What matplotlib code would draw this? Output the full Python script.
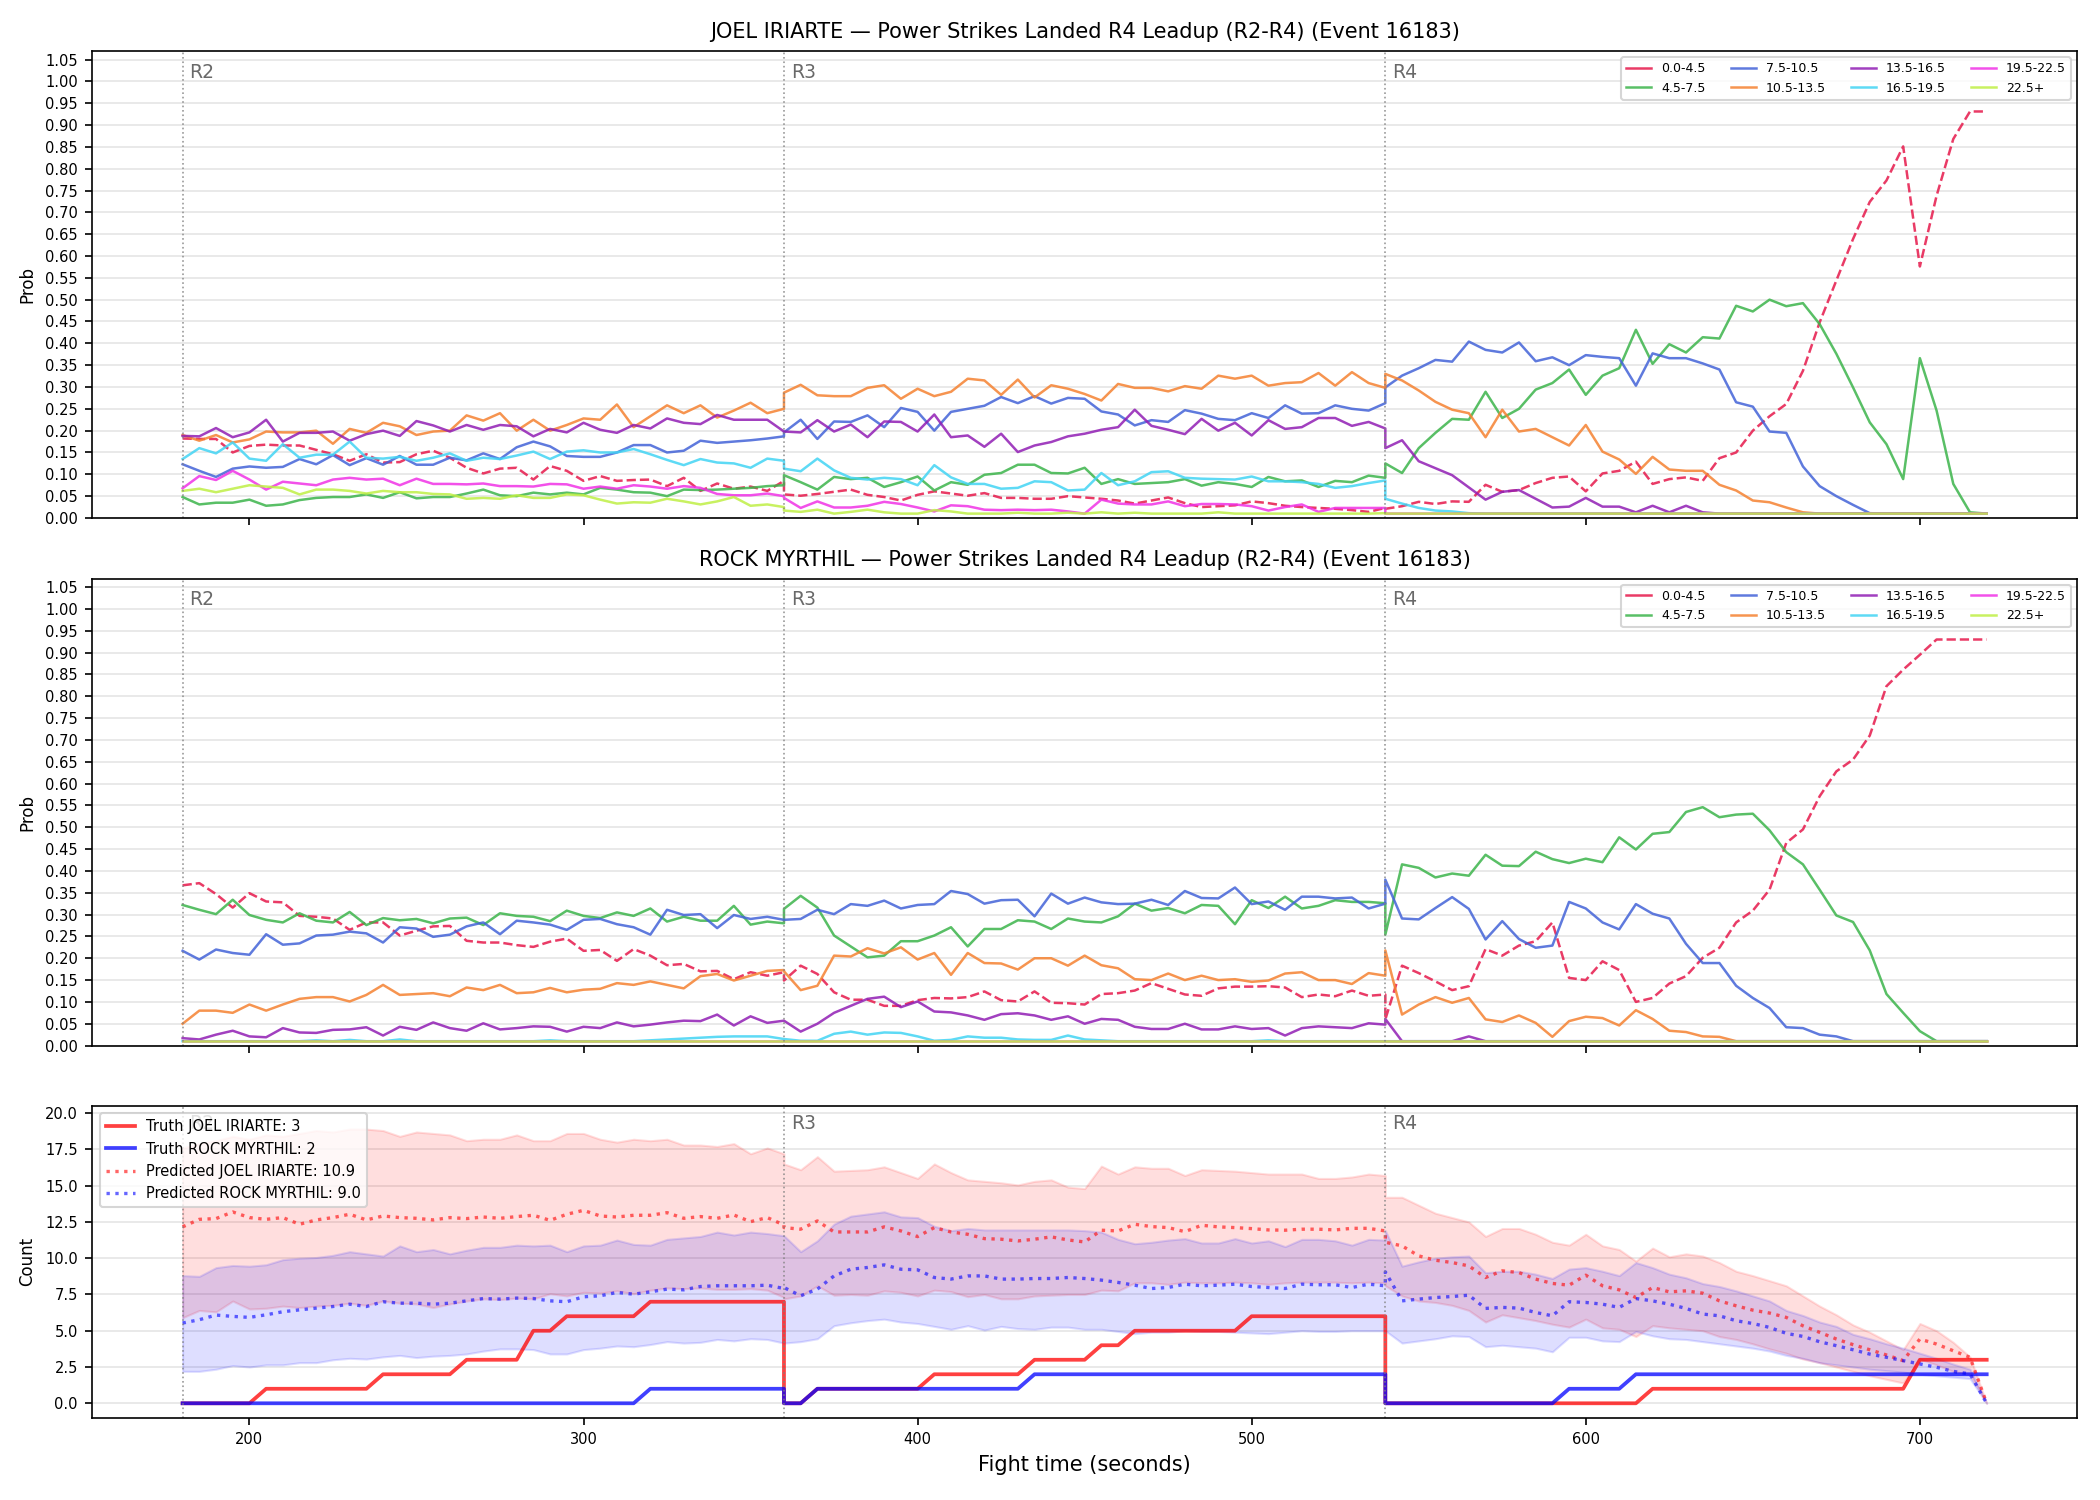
import numpy as np
import matplotlib
matplotlib.use("Agg")
import matplotlib.pyplot as plt
import matplotlib.transforms as mtransforms
from matplotlib.lines import Line2D

# ---------------- time grid (each round sampled every 5 s, 180..720) -------------
ROUND_STARTS = [180, 360, 540]
ROUND_NAMES = ["R2", "R3", "R4"]
BUCKETS = ["0.0-4.5", "4.5-7.5", "7.5-10.5", "10.5-13.5",
           "13.5-16.5", "16.5-19.5", "19.5-22.5", "22.5+"]
COLORS = ["#e6194b", "#3cb44b", "#4363d8", "#f58231",
          "#911eb4", "#42d4f4", "#f032e6", "#bfef45"]

# ---------------- JOEL IRIARTE bucket probabilities (R2 | R3 | R4) ----------------
J_0_4 = ([0.182, 0.181, 0.181, 0.15, 0.165, 0.168, 0.166, 0.166, 0.156, 0.146, 0.131, 0.146, 0.127, 0.128, 0.146, 0.154, 0.138, 0.115, 0.102, 0.113, 0.115, 0.088, 0.119, 0.108, 0.085, 0.096, 0.085, 0.087, 0.088, 0.073, 0.092, 0.062, 0.079, 0.067, 0.072, 0.062, 0.085]
         + [0.054, 0.051, 0.055, 0.06, 0.065, 0.053, 0.048, 0.04, 0.053, 0.061, 0.056, 0.051, 0.057, 0.046, 0.046, 0.044, 0.044, 0.05, 0.047, 0.044, 0.04, 0.033, 0.04, 0.047, 0.034, 0.025, 0.027, 0.029, 0.038, 0.034, 0.028, 0.025, 0.023, 0.021, 0.018, 0.014, 0.023]
         + [0.021, 0.027, 0.037, 0.032, 0.038, 0.037, 0.076, 0.06, 0.064, 0.08, 0.092, 0.095, 0.061, 0.102, 0.108, 0.129, 0.078, 0.089, 0.093, 0.085, 0.137, 0.15, 0.2, 0.233, 0.261, 0.337, 0.448, 0.544, 0.639, 0.724, 0.773, 0.851, 0.576, 0.738, 0.868, 0.931, 0.931])
J_4_7 = ([0.048, 0.031, 0.035, 0.035, 0.042, 0.028, 0.031, 0.041, 0.046, 0.048, 0.048, 0.054, 0.046, 0.059, 0.045, 0.048, 0.048, 0.056, 0.065, 0.052, 0.05, 0.058, 0.054, 0.058, 0.054, 0.069, 0.065, 0.059, 0.058, 0.05, 0.065, 0.064, 0.065, 0.067, 0.069, 0.073, 0.075]
         + [0.098, 0.082, 0.065, 0.094, 0.089, 0.092, 0.071, 0.082, 0.095, 0.063, 0.082, 0.076, 0.099, 0.103, 0.122, 0.122, 0.103, 0.102, 0.115, 0.078, 0.089, 0.078, 0.08, 0.082, 0.089, 0.074, 0.082, 0.078, 0.071, 0.094, 0.084, 0.086, 0.071, 0.085, 0.082, 0.097, 0.092]
         + [0.125, 0.103, 0.16, 0.195, 0.227, 0.225, 0.289, 0.229, 0.25, 0.294, 0.309, 0.34, 0.282, 0.326, 0.343, 0.431, 0.353, 0.398, 0.379, 0.414, 0.411, 0.486, 0.473, 0.5, 0.485, 0.492, 0.444, 0.376, 0.299, 0.219, 0.169, 0.089, 0.366, 0.246, 0.078, 0.013, 0.01])
J_7_10 = ([0.123, 0.108, 0.094, 0.113, 0.118, 0.115, 0.117, 0.135, 0.123, 0.144, 0.121, 0.137, 0.122, 0.142, 0.122, 0.122, 0.138, 0.132, 0.148, 0.135, 0.162, 0.175, 0.164, 0.142, 0.14, 0.14, 0.15, 0.167, 0.167, 0.15, 0.154, 0.177, 0.172, 0.175, 0.178, 0.182, 0.187]
          + [0.196, 0.225, 0.181, 0.221, 0.22, 0.235, 0.208, 0.252, 0.243, 0.2, 0.243, 0.25, 0.257, 0.277, 0.263, 0.279, 0.262, 0.275, 0.273, 0.244, 0.237, 0.212, 0.224, 0.22, 0.247, 0.239, 0.227, 0.224, 0.24, 0.229, 0.258, 0.239, 0.24, 0.258, 0.25, 0.246, 0.263]
          + [0.299, 0.326, 0.343, 0.362, 0.358, 0.404, 0.385, 0.379, 0.402, 0.359, 0.368, 0.35, 0.373, 0.369, 0.366, 0.303, 0.377, 0.366, 0.366, 0.354, 0.34, 0.265, 0.255, 0.198, 0.195, 0.118, 0.073, 0.05, 0.03, 0.011, 0.01, 0.01, 0.01, 0.01, 0.01, 0.01, 0.01])
J_10_13 = ([0.19, 0.177, 0.19, 0.173, 0.18, 0.198, 0.196, 0.196, 0.2, 0.17, 0.204, 0.195, 0.218, 0.21, 0.19, 0.198, 0.2, 0.235, 0.223, 0.24, 0.2, 0.225, 0.2, 0.213, 0.228, 0.225, 0.26, 0.208, 0.233, 0.258, 0.24, 0.258, 0.23, 0.246, 0.264, 0.24, 0.25]
           + [0.287, 0.305, 0.281, 0.279, 0.279, 0.298, 0.304, 0.273, 0.296, 0.279, 0.289, 0.319, 0.315, 0.282, 0.317, 0.276, 0.304, 0.296, 0.284, 0.269, 0.307, 0.298, 0.298, 0.29, 0.302, 0.296, 0.326, 0.319, 0.326, 0.303, 0.309, 0.311, 0.332, 0.303, 0.334, 0.309, 0.298]
           + [0.33, 0.315, 0.292, 0.266, 0.248, 0.24, 0.185, 0.248, 0.198, 0.204, 0.185, 0.166, 0.213, 0.152, 0.134, 0.101, 0.14, 0.111, 0.108, 0.108, 0.076, 0.063, 0.04, 0.036, 0.024, 0.013, 0.01, 0.01, 0.01, 0.01, 0.01, 0.01, 0.01, 0.01, 0.01, 0.01, 0.01])
J_13_16 = ([0.188, 0.187, 0.206, 0.185, 0.196, 0.225, 0.175, 0.195, 0.195, 0.198, 0.177, 0.192, 0.2, 0.188, 0.222, 0.212, 0.198, 0.213, 0.202, 0.213, 0.21, 0.187, 0.204, 0.196, 0.218, 0.202, 0.195, 0.213, 0.205, 0.228, 0.218, 0.215, 0.236, 0.225, 0.225, 0.225, 0.198]
           + [0.198, 0.196, 0.224, 0.198, 0.214, 0.185, 0.221, 0.22, 0.198, 0.237, 0.185, 0.189, 0.163, 0.193, 0.151, 0.166, 0.174, 0.187, 0.193, 0.202, 0.208, 0.248, 0.211, 0.202, 0.192, 0.227, 0.2, 0.218, 0.189, 0.224, 0.204, 0.208, 0.229, 0.229, 0.211, 0.22, 0.205]
           + [0.16, 0.178, 0.13, 0.114, 0.098, 0.07, 0.042, 0.06, 0.064, 0.044, 0.024, 0.026, 0.046, 0.026, 0.026, 0.013, 0.028, 0.013, 0.028, 0.013, 0.01, 0.01, 0.01, 0.01, 0.01, 0.01, 0.01, 0.01, 0.01, 0.01, 0.01, 0.01, 0.01, 0.01, 0.01, 0.01, 0.01])
J_16_19 = ([0.135, 0.16, 0.148, 0.173, 0.136, 0.131, 0.169, 0.138, 0.145, 0.145, 0.175, 0.138, 0.136, 0.14, 0.131, 0.138, 0.148, 0.131, 0.138, 0.135, 0.143, 0.152, 0.135, 0.152, 0.155, 0.15, 0.15, 0.158, 0.146, 0.133, 0.121, 0.135, 0.127, 0.125, 0.115, 0.136, 0.131]
           + [0.113, 0.107, 0.136, 0.109, 0.092, 0.088, 0.092, 0.089, 0.075, 0.121, 0.093, 0.078, 0.078, 0.067, 0.069, 0.084, 0.082, 0.063, 0.065, 0.103, 0.075, 0.084, 0.105, 0.107, 0.092, 0.09, 0.089, 0.088, 0.095, 0.084, 0.084, 0.082, 0.078, 0.069, 0.073, 0.08, 0.086]
           + [0.044, 0.033, 0.023, 0.017, 0.015, 0.011, 0.01, 0.01, 0.01, 0.01, 0.01, 0.01, 0.01, 0.01, 0.01, 0.01, 0.01, 0.01, 0.01, 0.01, 0.01, 0.01, 0.01, 0.01, 0.01, 0.01, 0.01, 0.01, 0.01, 0.01, 0.01, 0.01, 0.01, 0.01, 0.01, 0.01, 0.01])
J_19_22 = ([0.068, 0.096, 0.087, 0.108, 0.088, 0.065, 0.083, 0.079, 0.075, 0.088, 0.092, 0.088, 0.09, 0.075, 0.09, 0.078, 0.078, 0.077, 0.079, 0.073, 0.073, 0.072, 0.078, 0.077, 0.067, 0.072, 0.067, 0.075, 0.072, 0.067, 0.073, 0.069, 0.055, 0.052, 0.052, 0.056, 0.05]
           + [0.046, 0.023, 0.038, 0.024, 0.024, 0.028, 0.037, 0.032, 0.024, 0.015, 0.029, 0.027, 0.019, 0.018, 0.019, 0.018, 0.019, 0.015, 0.01, 0.042, 0.033, 0.031, 0.031, 0.038, 0.027, 0.032, 0.032, 0.031, 0.027, 0.017, 0.025, 0.031, 0.014, 0.023, 0.023, 0.023, 0.023]
           + [0.01] * 37)
J_22P = ([0.062, 0.067, 0.059, 0.067, 0.075, 0.072, 0.069, 0.054, 0.065, 0.065, 0.062, 0.056, 0.062, 0.059, 0.059, 0.055, 0.054, 0.044, 0.046, 0.044, 0.052, 0.046, 0.046, 0.054, 0.052, 0.042, 0.033, 0.036, 0.035, 0.044, 0.038, 0.031, 0.038, 0.048, 0.028, 0.031, 0.025]
         + [0.017, 0.014, 0.019, 0.01, 0.014, 0.019, 0.013, 0.01, 0.01, 0.018, 0.015, 0.01, 0.01, 0.01, 0.012, 0.01, 0.01, 0.012, 0.01, 0.013, 0.01, 0.012, 0.01, 0.01, 0.01, 0.01, 0.013, 0.01, 0.01, 0.01, 0.01, 0.01, 0.01, 0.01, 0.01, 0.01, 0.011]
         + [0.01] * 37)

# ---------------- ROCK MYRTHIL bucket probabilities (R2 | R3 | R4) ----------------
R_0_4 = ([0.367, 0.372, 0.347, 0.316, 0.349, 0.33, 0.328, 0.297, 0.295, 0.291, 0.265, 0.282, 0.282, 0.252, 0.263, 0.273, 0.274, 0.24, 0.236, 0.236, 0.23, 0.226, 0.238, 0.245, 0.217, 0.219, 0.194, 0.221, 0.206, 0.184, 0.187, 0.17, 0.171, 0.152, 0.168, 0.16, 0.168]
         + [0.149, 0.183, 0.164, 0.122, 0.105, 0.105, 0.091, 0.091, 0.104, 0.109, 0.108, 0.111, 0.124, 0.104, 0.101, 0.124, 0.098, 0.097, 0.094, 0.118, 0.12, 0.126, 0.143, 0.13, 0.117, 0.114, 0.131, 0.135, 0.135, 0.136, 0.133, 0.111, 0.117, 0.113, 0.126, 0.114, 0.117]
         + [0.06, 0.183, 0.166, 0.147, 0.127, 0.136, 0.221, 0.206, 0.229, 0.239, 0.282, 0.155, 0.15, 0.193, 0.173, 0.1, 0.109, 0.142, 0.159, 0.201, 0.224, 0.282, 0.309, 0.357, 0.464, 0.495, 0.571, 0.628, 0.655, 0.71, 0.823, 0.861, 0.895, 0.93, 0.93, 0.93, 0.93])
R_4_7 = ([0.322, 0.311, 0.301, 0.334, 0.299, 0.288, 0.282, 0.303, 0.286, 0.282, 0.306, 0.276, 0.292, 0.287, 0.29, 0.28, 0.291, 0.293, 0.276, 0.303, 0.297, 0.295, 0.285, 0.309, 0.297, 0.292, 0.305, 0.297, 0.314, 0.284, 0.295, 0.286, 0.286, 0.32, 0.277, 0.284, 0.28]
         + [0.313, 0.343, 0.316, 0.252, 0.227, 0.202, 0.206, 0.239, 0.239, 0.252, 0.271, 0.227, 0.267, 0.267, 0.287, 0.284, 0.267, 0.291, 0.284, 0.282, 0.296, 0.325, 0.309, 0.315, 0.303, 0.322, 0.32, 0.278, 0.333, 0.315, 0.341, 0.314, 0.32, 0.333, 0.329, 0.329, 0.326]
         + [0.254, 0.415, 0.407, 0.385, 0.394, 0.389, 0.437, 0.412, 0.411, 0.444, 0.427, 0.418, 0.428, 0.42, 0.477, 0.449, 0.485, 0.489, 0.535, 0.546, 0.523, 0.529, 0.531, 0.493, 0.443, 0.415, 0.357, 0.298, 0.283, 0.218, 0.118, 0.075, 0.033, 0.01, 0.01, 0.01, 0.01])
R_7_10 = ([0.217, 0.197, 0.22, 0.212, 0.208, 0.255, 0.231, 0.234, 0.252, 0.254, 0.261, 0.257, 0.236, 0.271, 0.268, 0.249, 0.254, 0.273, 0.282, 0.255, 0.286, 0.282, 0.277, 0.265, 0.288, 0.29, 0.278, 0.271, 0.254, 0.311, 0.299, 0.301, 0.269, 0.299, 0.29, 0.295, 0.288]
          + [0.288, 0.29, 0.311, 0.301, 0.324, 0.32, 0.332, 0.314, 0.322, 0.324, 0.354, 0.347, 0.325, 0.333, 0.334, 0.296, 0.348, 0.325, 0.339, 0.328, 0.324, 0.325, 0.334, 0.322, 0.354, 0.338, 0.337, 0.362, 0.324, 0.33, 0.311, 0.341, 0.341, 0.337, 0.339, 0.314, 0.325]
          + [0.38, 0.291, 0.289, 0.315, 0.34, 0.313, 0.243, 0.285, 0.244, 0.224, 0.229, 0.329, 0.314, 0.282, 0.266, 0.324, 0.302, 0.291, 0.233, 0.189, 0.189, 0.137, 0.109, 0.086, 0.042, 0.04, 0.025, 0.021, 0.01, 0.01, 0.01, 0.01, 0.01, 0.01, 0.01, 0.01, 0.01])
R_10_13 = ([0.05, 0.08, 0.08, 0.075, 0.094, 0.08, 0.094, 0.107, 0.111, 0.111, 0.101, 0.116, 0.139, 0.116, 0.118, 0.12, 0.113, 0.133, 0.127, 0.139, 0.12, 0.122, 0.132, 0.122, 0.128, 0.13, 0.143, 0.139, 0.147, 0.139, 0.131, 0.159, 0.164, 0.149, 0.16, 0.171, 0.173]
           + [0.17, 0.127, 0.137, 0.206, 0.204, 0.223, 0.211, 0.225, 0.197, 0.212, 0.162, 0.212, 0.189, 0.188, 0.174, 0.2, 0.2, 0.183, 0.206, 0.184, 0.177, 0.152, 0.15, 0.165, 0.15, 0.16, 0.15, 0.152, 0.146, 0.149, 0.165, 0.168, 0.15, 0.15, 0.141, 0.166, 0.16]
           + [0.218, 0.071, 0.094, 0.111, 0.098, 0.109, 0.06, 0.054, 0.069, 0.052, 0.02, 0.056, 0.066, 0.063, 0.046, 0.081, 0.061, 0.034, 0.031, 0.021, 0.02, 0.01, 0.01, 0.01, 0.01, 0.01, 0.01, 0.01, 0.01, 0.01, 0.01, 0.01, 0.01, 0.01, 0.01, 0.01, 0.01])
R_13_16 = ([0.017, 0.014, 0.025, 0.034, 0.021, 0.019, 0.04, 0.03, 0.029, 0.036, 0.037, 0.042, 0.023, 0.043, 0.036, 0.053, 0.04, 0.034, 0.051, 0.037, 0.04, 0.044, 0.043, 0.032, 0.043, 0.04, 0.053, 0.044, 0.048, 0.053, 0.057, 0.056, 0.071, 0.046, 0.067, 0.052, 0.057]
           + [0.057, 0.032, 0.05, 0.075, 0.091, 0.107, 0.112, 0.088, 0.101, 0.078, 0.076, 0.069, 0.059, 0.072, 0.074, 0.069, 0.059, 0.067, 0.05, 0.061, 0.059, 0.043, 0.038, 0.038, 0.05, 0.037, 0.037, 0.044, 0.038, 0.04, 0.023, 0.04, 0.044, 0.042, 0.04, 0.051, 0.048]
           + [0.061, 0.01, 0.01, 0.01, 0.01, 0.021, 0.01, 0.01, 0.01, 0.01, 0.01, 0.01, 0.01, 0.01, 0.01, 0.01, 0.01, 0.01, 0.01, 0.01, 0.01, 0.01, 0.01, 0.01, 0.01, 0.01, 0.01, 0.01, 0.01, 0.01, 0.01, 0.01, 0.01, 0.01, 0.01, 0.01, 0.01])
R_16_19 = ([0.01, 0.01, 0.01, 0.01, 0.01, 0.01, 0.01, 0.01, 0.012, 0.01, 0.013, 0.01, 0.01, 0.014, 0.01, 0.01, 0.01, 0.01, 0.01, 0.01, 0.01, 0.01, 0.012, 0.01, 0.01, 0.01, 0.01, 0.01, 0.012, 0.014, 0.016, 0.018, 0.02, 0.021, 0.021, 0.021, 0.015]
           + [0.015, 0.011, 0.011, 0.027, 0.032, 0.025, 0.03, 0.029, 0.021, 0.011, 0.013, 0.021, 0.018, 0.018, 0.014, 0.013, 0.013, 0.023, 0.014, 0.012, 0.01, 0.01, 0.01, 0.01, 0.01, 0.01, 0.01, 0.01, 0.01, 0.012, 0.01, 0.01, 0.01, 0.01, 0.01, 0.01, 0.01]
           + [0.01] * 37)
R_19_22 = [0.01] * 111
R_22P = [0.01] * 111

# ---------------- Counts panel (R2 | R3 | R4) ----------------
TRUTH_J = ([0, 0, 0, 0, 0, 1, 1, 1, 1, 1, 1, 1, 2, 2, 2, 2, 2, 3, 3, 3, 3, 5, 5, 6, 6, 6, 6, 6, 7, 7, 7, 7, 7, 7, 7, 7, 7]
           + [0, 0, 1, 1, 1, 1, 1, 1, 1, 2, 2, 2, 2, 2, 2, 3, 3, 3, 3, 4, 4, 5, 5, 5, 5, 5, 5, 5, 6, 6, 6, 6, 6, 6, 6, 6, 6]
           + [0, 0, 0, 0, 0, 0, 0, 0, 0, 0, 0, 0, 0, 0, 0, 0, 1, 1, 1, 1, 1, 1, 1, 1, 1, 1, 1, 1, 1, 1, 1, 1, 3, 3, 3, 3, 3])
TRUTH_R = ([0, 0, 0, 0, 0, 0, 0, 0, 0, 0, 0, 0, 0, 0, 0, 0, 0, 0, 0, 0, 0, 0, 0, 0, 0, 0, 0, 0, 1, 1, 1, 1, 1, 1, 1, 1, 1]
           + [0, 0, 1, 1, 1, 1, 1, 1, 1, 1, 1, 1, 1, 1, 1, 2, 2, 2, 2, 2, 2, 2, 2, 2, 2, 2, 2, 2, 2, 2, 2, 2, 2, 2, 2, 2, 2]
           + [0, 0, 0, 0, 0, 0, 0, 0, 0, 0, 0, 1, 1, 1, 1, 2, 2, 2, 2, 2, 2, 2, 2, 2, 2, 2, 2, 2, 2, 2, 2, 2, 2, 2, 2, 2, 2])
PRED_J = ([12.16, 12.68, 12.73, 13.19, 12.8, 12.68, 12.8, 12.34, 12.64, 12.8, 13.03, 12.64, 12.91, 12.8, 12.75, 12.64, 12.8, 12.73, 12.84, 12.75, 12.87, 12.96, 12.61, 13.03, 13.3, 12.91, 12.84, 12.96, 12.96, 13.14, 12.75, 12.87, 12.75, 12.98, 12.52, 12.8, 12.29]
          + [12.11, 12.0, 12.57, 11.81, 11.81, 11.81, 12.16, 11.88, 11.49, 12.11, 11.81, 11.65, 11.35, 11.31, 11.19, 11.31, 11.47, 11.26, 11.12, 11.93, 11.88, 12.34, 12.18, 12.11, 11.83, 12.27, 12.16, 12.11, 12.04, 11.95, 11.93, 12.0, 12.0, 11.95, 12.06, 12.06, 11.88]
          + [11.1, 10.85, 10.16, 9.86, 9.7, 9.47, 8.67, 9.13, 9.01, 8.56, 8.26, 8.14, 8.83, 8.1, 7.82, 7.29, 7.98, 7.68, 7.75, 7.59, 7.06, 6.72, 6.42, 6.22, 5.92, 5.34, 4.89, 4.43, 4.04, 3.69, 3.33, 2.94, 4.43, 4.08, 3.62, 3.17, 0.0])
PRED_R = ([5.53, 5.76, 6.08, 5.99, 5.92, 6.1, 6.31, 6.44, 6.56, 6.67, 6.83, 6.67, 7.0, 6.9, 6.9, 6.83, 6.9, 7.06, 7.22, 7.18, 7.25, 7.22, 7.06, 7.0, 7.34, 7.41, 7.64, 7.52, 7.68, 7.87, 7.82, 8.05, 8.1, 8.1, 8.1, 8.14, 7.91]
          + [7.98, 7.41, 7.87, 8.78, 9.24, 9.36, 9.54, 9.24, 9.2, 8.67, 8.56, 8.78, 8.78, 8.56, 8.56, 8.6, 8.6, 8.67, 8.6, 8.49, 8.33, 8.14, 7.91, 7.98, 8.21, 8.1, 8.14, 8.21, 8.05, 7.98, 7.91, 8.21, 8.17, 8.17, 7.98, 8.21, 8.1]
          + [9.06, 7.06, 7.18, 7.29, 7.36, 7.45, 6.54, 6.61, 6.56, 6.26, 6.03, 7.0, 6.95, 6.83, 6.61, 7.22, 7.06, 6.83, 6.54, 6.15, 6.03, 5.69, 5.5, 5.23, 4.82, 4.61, 4.24, 3.97, 3.69, 3.39, 3.17, 2.94, 2.71, 2.48, 2.2, 2.02, 0.0])
BAND_J_HI = ([17.6, 17.9, 18.1, 18.4, 18.2, 18.5, 18.4, 18.6, 18.8, 18.7, 18.9, 18.9, 18.8, 18.4, 18.7, 18.6, 18.5, 18.1, 18.2, 18.2, 18.5, 18.1, 18.1, 18.6, 18.6, 18.2, 18.0, 18.2, 18.1, 18.2, 17.8, 17.8, 17.7, 17.9, 17.2, 17.6, 17.2]
             + [16.5, 16.1, 17.0, 16.0, 16.05, 16.1, 16.3, 15.9, 15.5, 16.5, 15.9, 15.4, 15.3, 15.2, 15.05, 15.3, 15.4, 14.9, 14.8, 16.35, 15.8, 16.3, 16.2, 16.2, 15.7, 16.1, 16.05, 16.0, 15.9, 15.8, 15.8, 15.8, 15.5, 15.5, 15.6, 15.8, 15.7]
             + [14.2, 14.2, 13.65, 13.1, 12.8, 12.5, 11.5, 12.05, 12.05, 11.65, 11.1, 10.9, 11.65, 10.85, 10.6, 9.8, 10.7, 10.1, 10.3, 10.15, 9.7, 9.1, 8.8, 8.45, 8.1, 7.4, 6.7, 6.1, 5.4, 4.9, 4.3, 3.7, 5.5, 5.0, 4.2, 3.2, 0.0])
BAND_J_LO = ([5.9, 6.4, 6.3, 7.05, 6.5, 6.55, 6.7, 6.6, 6.7, 6.75, 6.9, 6.75, 7.05, 6.9, 6.85, 6.6, 6.85, 7.05, 7.2, 7.15, 7.25, 7.2, 7.55, 7.4, 7.65, 7.6, 7.75, 7.55, 7.8, 7.95, 7.9, 7.95, 7.85, 7.85, 7.9, 7.8, 7.3]
             + [7.2, 7.4, 8.1, 7.45, 7.5, 7.45, 7.75, 7.65, 7.4, 7.8, 7.7, 7.35, 7.5, 7.2, 7.2, 7.4, 7.45, 7.5, 7.5, 7.8, 7.75, 8.3, 8.3, 8.2, 8.35, 8.3, 8.3, 8.35, 8.3, 8.2, 8.3, 8.35, 8.35, 8.35, 8.3, 8.35, 8.3]
             + [8.1, 7.4, 7.05, 6.95, 6.75, 6.4, 5.6, 6.1, 5.9, 5.7, 5.45, 5.25, 5.8, 5.2, 5.1, 4.6, 5.35, 5.2, 5.1, 5.0, 4.6, 4.4, 4.1, 3.75, 3.45, 3.05, 2.8, 2.5, 2.2, 1.9, 1.65, 1.4, 3.05, 2.65, 2.2, 2.0, 0.0])
BAND_R_HI = ([8.8, 8.75, 9.35, 9.5, 9.45, 9.55, 9.9, 10.0, 10.05, 10.2, 10.45, 10.3, 10.15, 10.85, 10.45, 10.6, 10.3, 10.55, 10.75, 10.75, 10.9, 10.85, 10.9, 10.45, 10.85, 10.9, 11.25, 10.95, 10.9, 11.3, 11.4, 11.5, 11.8, 11.6, 11.8, 11.7, 11.55]
             + [11.55, 10.45, 11.2, 12.35, 12.9, 13.05, 13.2, 12.85, 12.8, 12.2, 11.9, 12.05, 11.95, 11.95, 11.95, 11.95, 11.95, 11.95, 11.9, 11.8, 11.3, 11.0, 11.1, 11.25, 11.35, 11.05, 11.05, 11.35, 11.05, 11.2, 10.8, 11.3, 11.3, 11.2, 10.9, 11.3, 11.25]
             + [11.9, 9.45, 9.75, 10.0, 10.1, 10.15, 9.0, 9.1, 9.1, 8.9, 8.6, 9.25, 9.35, 9.1, 8.8, 9.7, 9.35, 8.9, 8.65, 8.25, 8.05, 7.75, 7.4, 7.05, 6.4, 6.05, 5.6, 5.3, 4.75, 4.45, 4.1, 3.8, 3.45, 3.1, 2.7, 2.35, 0.0])
BAND_R_LO = ([2.2, 2.2, 2.35, 2.6, 2.5, 2.65, 2.65, 2.8, 2.8, 3.0, 3.1, 3.05, 3.2, 3.3, 3.15, 3.25, 3.3, 3.4, 3.6, 3.75, 3.75, 3.7, 3.4, 3.4, 3.7, 3.8, 3.95, 3.9, 4.05, 4.25, 4.15, 4.2, 4.4, 4.3, 4.45, 4.4, 4.15]
             + [4.15, 4.25, 4.45, 5.35, 5.55, 5.7, 5.8, 5.6, 5.5, 5.3, 5.1, 5.35, 5.05, 5.3, 5.15, 5.1, 5.25, 5.25, 5.1, 5.1, 4.95, 4.8, 4.9, 4.9, 5.0, 4.95, 4.95, 4.9, 4.85, 4.8, 4.9, 5.0, 4.95, 4.95, 5.0, 5.0, 5.0]
             + [5.0, 4.15, 4.3, 4.45, 4.65, 4.6, 3.9, 4.0, 3.9, 3.8, 3.55, 4.55, 4.55, 4.3, 4.25, 4.95, 4.65, 4.45, 4.4, 4.25, 4.1, 3.95, 3.8, 3.6, 3.3, 3.1, 2.8, 2.65, 2.5, 2.35, 2.25, 2.15, 2.0, 1.9, 1.8, 1.7, 0.0])

NAME_J = "JOEL IRIARTE"
NAME_R = "ROCK MYRTHIL"
TRUTH_J_FINAL = 3
TRUTH_R_FINAL = 2
PRED_J_FINAL = 10.9
PRED_R_FINAL = 9.0
EVENT = 16183

# time axis: each round sampled at 5 s, consecutive rounds share the boundary time
T = np.concatenate([np.arange(s, s + 181, 5) for s in ROUND_STARTS])

J_SERIES = [J_0_4, J_4_7, J_7_10, J_10_13, J_13_16, J_16_19, J_19_22, J_22P]
R_SERIES = [R_0_4, R_4_7, R_7_10, R_10_13, R_13_16, R_16_19, R_19_22, R_22P]

fig = plt.figure(figsize=(14, 10), dpi=150)
gs = fig.add_gridspec(3, 1, height_ratios=[3, 3, 2], hspace=0.146,
                      left=0.044, right=0.989, top=0.966, bottom=0.055)
ax1 = fig.add_subplot(gs[0])
ax2 = fig.add_subplot(gs[1], sharex=ax1)
ax3 = fig.add_subplot(gs[2], sharex=ax1)


def round_marks(ax, starts, names):
    trans = mtransforms.blended_transform_factory(ax.transData, ax.transAxes)
    for s, n in zip(starts, names):
        ax.axvline(s, color="gray", linestyle=":", linewidth=0.8, alpha=0.8)
        ax.text(s + 2, 0.975, n, transform=trans, ha="left", va="top",
                fontsize=9, color="dimgray")


for ax, series, name in [(ax1, J_SERIES, NAME_J), (ax2, R_SERIES, NAME_R)]:
    handles = []
    for i, (lab, col, y) in enumerate(zip(BUCKETS, COLORS, series)):
        ax.plot(T, y, color=col, lw=1.2, alpha=0.85,
                linestyle="--" if i == 0 else "-")
        handles.append(Line2D([0], [0], color=col, lw=1.2, alpha=0.85, label=lab))
    round_marks(ax, ROUND_STARTS, ROUND_NAMES)
    ax.set_ylim(0, 1.0695)
    ticks = np.round(np.arange(0, 1.051, 0.05), 2)
    ax.set_yticks(ticks)
    ax.set_yticklabels([f"{v:.2f}" for v in ticks])
    ax.set_ylabel("Prob", fontsize=8)
    ax.grid(axis="y", color="#e5e5e5", linewidth=0.8)
    ax.set_axisbelow(True)
    ax.set_title(f"{name} — Power Strikes Landed R4 Leadup (R2-R4) (Event {EVENT})",
                 fontsize=10)
    ax.legend(handles=handles, loc="upper right", ncol=4, fontsize=6, framealpha=0.8)
    ax.tick_params(labelsize=7, labelbottom=False)

# counts panel
ax3.fill_between(T, BAND_J_LO, BAND_J_HI, color="red", alpha=0.13)
ax3.fill_between(T, BAND_R_LO, BAND_R_HI, color="blue", alpha=0.13)
ax3.plot(T, TRUTH_J, color="red", lw=1.8, alpha=0.75, label=f"Truth {NAME_J}: {TRUTH_J_FINAL}")
ax3.plot(T, TRUTH_R, color="blue", lw=1.8, alpha=0.75, label=f"Truth {NAME_R}: {TRUTH_R_FINAL}")
ax3.plot(T, PRED_J, color="red", lw=1.6, alpha=0.6, linestyle=":",
         label=f"Predicted {NAME_J}: {PRED_J_FINAL}")
ax3.plot(T, PRED_R, color="blue", lw=1.6, alpha=0.6, linestyle=":",
         label=f"Predicted {NAME_R}: {PRED_R_FINAL}")
round_marks(ax3, ROUND_STARTS, ROUND_NAMES)
ax3.set_ylim(-0.98, 20.48)
ax3.set_yticks(np.arange(0, 20.01, 2.5))
ax3.set_ylabel("Count", fontsize=8)
ax3.set_xlabel("Fight time (seconds)", fontsize=10)
ax3.grid(axis="y", color="#e5e5e5", linewidth=0.8)
ax3.set_axisbelow(True)
ax3.legend(loc="upper left", fontsize=7, framealpha=0.8)
ax3.tick_params(labelsize=7)

fig.savefig("out.png", dpi=150)
